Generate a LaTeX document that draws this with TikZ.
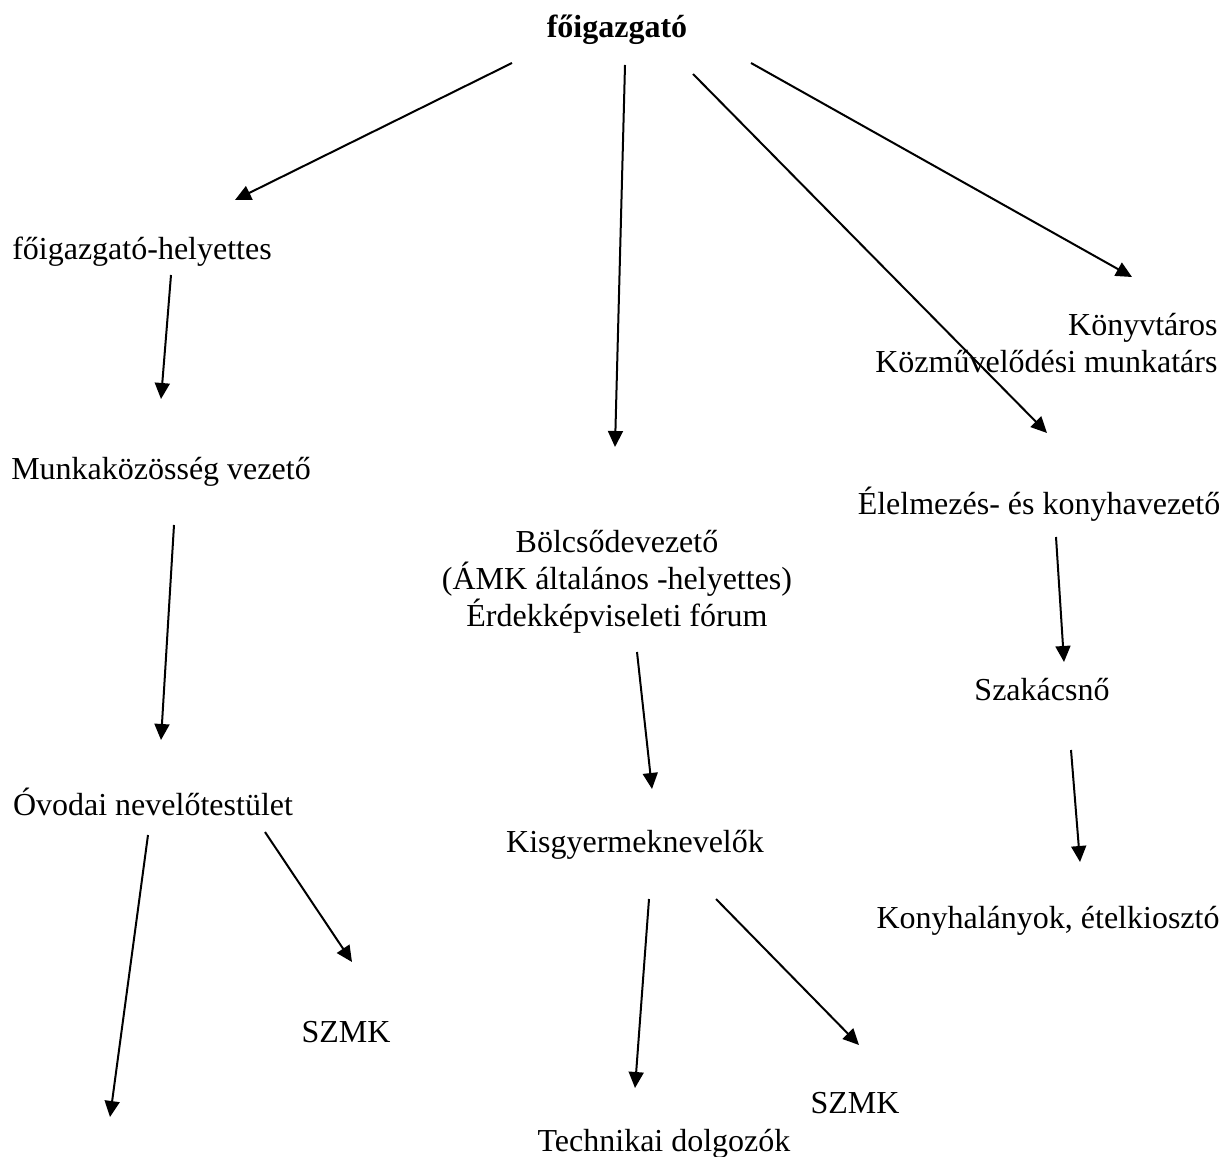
\documentclass[tikz,border=0pt]{standalone}
\usepackage{fontspec}
\setmainfont{Liberation Serif}
\usepackage{tikz}
\usetikzlibrary{arrows.meta, calc}

\begin{document}
\begin{tikzpicture}[x=0.375pt, y=-0.375pt,
    post/.style={inner sep=0pt, anchor=base, font=\fontsize{12}{13.8}\selectfont},
    link/.style={line width=0.75pt, -{Triangle[length=6pt, width=5.6pt]}}]

%% page frame, keep the proportions of the chart
\useasboundingbox (0,0) rectangle (1226,1157);

%% head
    \node[post, font=\fontsize{12}{13.8}\selectfont\bfseries] (boss) at (617, 38) {főigazgató};

%% left branch
    \node[post] (deputy) at (142, 260) {főigazgató-helyettes};
    \node[post] (wgroup) at (161, 480) {Munkaközösség vezető};
    \node[post] (kinder) at (153, 815) {Óvodai nevelőtestület};
    \node[post] (szmkA) at (346, 1042) {SZMK};
    \coordinate (blank) at (110, 1117);

%% middle branch
    \node[post, anchor=center, align=center] (nursery) at (617, 582) {Bölcsődevezető\\(ÁMK általános -helyettes)\\Érdekképviseleti fórum};
    \node[post] (carers) at (635, 852) {Kisgyermeknevelők};
    \node[post] (tech) at (664, 1151) {Technikai dolgozók};
    \node[post] (szmkB) at (855, 1113) {SZMK};

%% right branch
    \node[post, anchor=east, align=right] (library) at (1218, 343) {Könyvtáros\\Közművelődési munkatárs};
    \node[post] (kitchen) at (1039, 515) {Élelmezés- és konyhavezető};
    \node[post] (cook) at (1042, 700) {Szakácsnő};
    \node[post] (staff) at (1048, 928) {Konyhalányok, ételkiosztó};

%% arrows from the head
    \draw[link] ($(boss.base)+(-105, 25)$) -- ($(deputy.base)+(93, -60)$);
    \draw[link] ($(boss.base)+(8, 27)$) -- ($(nursery.center)+(-2, -135)$);
    \draw[link] ($(boss.base)+(76, 36)$) -- ($(kitchen.base)+(8, -82)$);
    \draw[link] ($(boss.base)+(134, 25)$) -- ($(library.east)+(-86, -66)$);

%% left arrows
    \draw[link] ($(deputy.base)+(29, 15)$) -- ($(wgroup.base)+(0, -81)$);
    \draw[link] ($(wgroup.base)+(13, 45)$) -- ($(kinder.base)+(8, -75)$);
    \draw[link] ($(kinder.base)+(-5, 20)$) -- (blank);
    \draw[link] ($(kinder.base)+(112, 17)$) -- ($(szmkA.base)+(6, -80)$);

%% middle arrows
    \draw[link] ($(nursery.center)+(20, 70)$) -- ($(carers.base)+(17, -63)$);
    \draw[link] ($(carers.base)+(14, 47)$) -- ($(tech.base)+(-29, -63)$);
    \draw[link] ($(carers.base)+(81, 47)$) -- ($(szmkB.base)+(4, -68)$);

%% right arrows
    \draw[link] ($(kitchen.base)+(17, 22)$) -- ($(cook.base)+(22, -38)$);
    \draw[link] ($(cook.base)+(29, 50)$) -- ($(staff.base)+(32, -66)$);

\end{tikzpicture}
\end{document}
